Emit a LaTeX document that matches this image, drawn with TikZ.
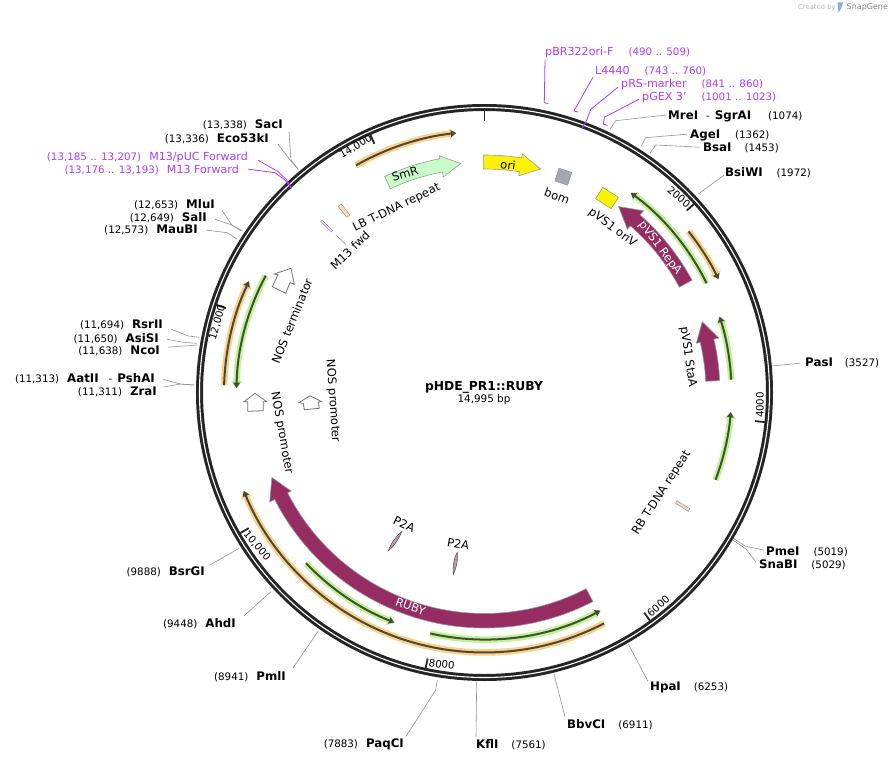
\documentclass[tikz,border=0pt]{standalone}
\usepackage{fontspec}
\setmainfont{DejaVu Sans}
\usetikzlibrary{arrows.meta}
\definecolor{ringdark}{HTML}{252525}
\definecolor{rubyred}{HTML}{962D62}
\definecolor{trackor}{HTML}{FFCF86}
\definecolor{trackgr}{HTML}{BDF58F}
\definecolor{trackln}{HTML}{454A3C}
\definecolor{primer}{HTML}{B03CFF}
\definecolor{smrgreen}{HTML}{C8FBC8}
\definecolor{bomgray}{HTML}{A3A8B0}
\tikzset{
  site/.style={font=\fontsize{10.3}{12}\selectfont, inner sep=0pt, text=black, yshift=-1.2pt},
  primerlabel/.style={site, text=primer},
  featlabel/.style={font=\fontsize{11.6}{13}\selectfont, inner sep=0pt},
  ticklabel/.style={font=\fontsize{10.2}{12}\selectfont, inner sep=0pt},
  leader/.style={draw=gray!85, line width=0.6pt},
  primerline/.style={draw=primer, line width=0.8pt},
  tickmark/.style={draw=ringdark, line width=1.8pt},
  arrowfeat/.style={draw=gray!80, line width=0.6pt},
  openarrow/.style={draw=gray!90!black, fill=white, line width=0.8pt},
}
\newcommand{\sname}[1]{{\fontsize{11.8}{12}\selectfont\bfseries #1}}
\newcommand{\pname}[1]{{\fontsize{11.1}{12}\selectfont #1}}
% polar track with halo, angles in degrees, tip at the second one
\newcommand{\trackarc}[4]{%
  \draw[#4, line width=6.5pt, -{Triangle[width=11pt,length=7pt]}] (#1:#3) arc[start angle=#1, end angle=#2, radius=#3];
  \draw[trackln, line width=2pt, -{Triangle[width=6.5pt,length=5.5pt]}] (#1:#3) arc[start angle=#1, end angle=#2, radius=#3];
}
% block arrow: tail, head base, tip, in and out radius, head in and out radius, tip radius
\newcommand{\blockarc}[8]{%
  \filldraw[arrowfeat, fill=#8] (#1:#4) arc[start angle=#1, end angle=#2, radius=#4]
    -- (#2:#6) -- (#3:{(#6+#7)/2}) -- (#2:#7) -- (#2:#5)
    arc[start angle=#2, end angle=#1, radius=#5] -- cycle;
}
\begin{document}
\begin{tikzpicture}[x=1pt, y=-1pt]
  \useasboundingbox (0,0) rectangle (895,760);
  \fill[white] (0,0) rectangle (895,760);

  \node[font=\fontsize{6.8}{8}\selectfont, text=gray!55, anchor=west, inner sep=0pt] (created) at (798,7.5) {Created by};
  \fill[cyan!50!blue!45] (837.5,2.5) -- (843,2.5) -- (841,9) -- (838.5,12.5) -- cycle;
  \node[font=\fontsize{8}{9}\selectfont, text=gray!95, anchor=west, inner sep=0pt] (snapgene) at (846.5,7.5) {SnapGene};

  % features, around the centre
  \begin{scope}[shift={(484.5,392.5)}, x=1pt, y=1pt]
    \draw[ringdark, line width=7pt] (0,0) circle[radius=285];
    \draw[white, line width=1.1pt] (0,0) circle[radius=285];

    % ticks every 2000 bp
    \foreach \bp in {0,2000,...,14000} {
      \pgfmathsetmacro{\ang}{90-\bp/14995*360}
      \draw[tickmark] (\ang:272) -- (\ang:284);
    }

    % orange tracks
    \trackarc{119.5}{96.2}{261}{trackor}
    \trackarc{38.3}{25.8}{260}{trackor}
    \trackarc{178.4}{154.7}{260.5}{trackor}
    \trackarc{297.4}{202.2}{260}{trackor}
    % green tracks
    \trackarc{26.2}{53.8}{247.5}{trackgr}
    \trackarc{3}{17.9}{247}{trackgr}
    \trackarc{-20.7}{-4.5}{247}{trackgr}
    \trackarc{257.3}{298}{247}{trackgr}
    \trackarc{223.7}{248.6}{247}{trackgr}
    \trackarc{151.9}{179}{248}{trackgr}

    % block arrows
    \blockarc{297.4}{207}{201.8}{221}{235.5}{217}{241}{rubyred}
    \blockarc{28.4}{48.8}{54.2}{221.5}{236}{217}{241.5}{rubyred}
    \blockarc{2.9}{13.1}{18}{221.5}{235.5}{217.5}{240.5}{rubyred}
    \blockarc{114.8}{100.8}{95.9}{224.5}{238}{219.5}{241}{smrgreen}
    \blockarc{90.3}{81}{75.9}{223.5}{237.5}{219.5}{241.5}{yellow}
  \end{scope}

  % labels on the features
  \node[featlabel] (smr) at (405,173.5) [rotate=16] {SmR};
  \node[featlabel] (ori) at (508,165) [rotate=-7] {ori};
  \node[featlabel, text=white] (repa) at (660,248) [rotate=-53] {pVS1 RepA};
  \node[featlabel, text=white] (ruby) at (410.5,606.5) [rotate=-20] {RUBY};

  % small boxes
  \node[draw=gray!90, fill=bomgray, minimum width=13.5pt, minimum height=13.5pt, inner sep=0pt, rotate=-18] (bom) at (563.3,176.7) {};
  \node[draw=gray, fill=yellow, minimum width=18.5pt, minimum height=13.5pt, inner sep=0pt, rotate=-33] (oriv) at (607,198) {};
  \node[draw=gray!90, fill=orange!30!brown!30, minimum width=15pt, minimum height=3pt, inner sep=0pt, rotate=-32] (rbbox) at (682.7,506) {};
  \node[draw=gray!90, fill=orange!30, minimum width=14pt, minimum height=4pt, inner sep=0pt, rotate=-52] (lbbox) at (344,210.7) {};
  \node[draw=primer, fill=white, minimum width=15pt, minimum height=2pt, inner sep=0pt, rotate=-45] (m13box) at (326.7,226) {};

  % open arrows
  \draw[openarrow] (274.3,274) -- (291,268.3) -- (294.3,284.3) -- (290,282.7) -- (285.7,293.3) -- (272.3,286.7) -- (278,274.7) -- cycle;
  \draw[openarrow] (244,401.7) -- (255,393.3) -- (266.7,401.7) -- (263.3,401.7) -- (263.3,410.7) -- (247.7,411.3) -- (247.7,401.7) -- cycle;
  \draw[openarrow] (299,402.7) -- (310,395.7) -- (321.7,401.7) -- (318.3,402) -- (319.3,408.3) -- (304.3,409.7) -- (303.3,403.3) -- cycle;

  % P2A
  \filldraw[draw=gray!60!black, fill=rubyred!50, line width=0.5pt] (388.3,550.7) .. controls (390.5,544) and (397,535) .. (401.7,531.7) .. controls (399.5,538) and (393.5,547) .. cycle;
  \filldraw[draw=gray!60!black, fill=rubyred!50, line width=0.5pt] (453.3,574.3) .. controls (452.8,566) and (454,557) .. (457.3,552.3) .. controls (458,560) and (456.5,568) .. cycle;

  % feature names
  \node[featlabel, rotate=-20] (bomname) at (557,196) {bom};
  \node[featlabel, rotate=-37] (orivname) at (612.5,228) {pVS1 oriV};
  \node[featlabel, rotate=-82] (staa) at (688,357) {pVS1 StaA};
  \node[featlabel, rotate=57] (rbname) at (661.7,493) {RB T-DNA repeat};
  \node[featlabel, rotate=26] (lbname) at (396.7,208) {LB T-DNA repeat};
  \node[featlabel, rotate=44] (m13name) at (350,250) {M13 fwd};
  \node[featlabel, rotate=68] (termname) at (292,321) {NOS terminator};
  \node[featlabel, rotate=-86] (promb) at (332.7,401) {NOS promoter};
  \node[featlabel, rotate=-80] (proma) at (281.7,433) {NOS promoter};
  \node[featlabel, rotate=-25] (ptwoa) at (404.3,524.3) {P2A};
  \node[featlabel, rotate=-10] (ptwob) at (458.3,544) {P2A};

  % tick labels
  \node[ticklabel, rotate=-40] (t2) at (679,197) {2000};
  \node[ticklabel, rotate=90] (t4) at (760,405) {4000};
  \node[ticklabel, rotate=42] (t6) at (658.3,606) {6000};
  \node[ticklabel, rotate=-8] (t8) at (441.7,664.3) {8000};
  \node[ticklabel, rotate=-50] (t10) at (257,546) {10,000};
  \node[ticklabel, rotate=74] (t12) at (217.5,322.3) {12,000};
  \node[ticklabel, rotate=31] (t14) at (355.7,146.7) {14,000};

  % title
  \node[font=\fontsize{12.3}{14}\selectfont\bfseries, inner sep=0pt] (title) at (484,387) {pHDE\_PR1::RUBY};
  \node[font=\fontsize{10.4}{12}\selectfont, inner sep=0pt] (size) at (484,400) {14,995 bp};

  % sites, right side
  \node[site, anchor=west] (mrei) at (668,115) {\sname{MreI}\hspace{8pt}-\hspace{5pt}\sname{SgrAI}\hspace{17pt}(1074)};
  \node[site, anchor=west] (agei) at (690,134) {\sname{AgeI}\hspace{15pt}(1362)};
  \node[site, anchor=west] (bsai) at (703,147) {\sname{BsaI}\hspace{13pt}(1453)};
  \node[site, anchor=west] (bsiwi) at (725,171) {\sname{BsiWI}\hspace{14pt}(1972)};
  \node[site, anchor=west] (pasi) at (805,362) {\sname{PasI}\hspace{12pt}(3527)};
  \node[site, anchor=west] (pmei) at (766,551) {\sname{PmeI}\hspace{14pt}(5019)};
  \node[site, anchor=west] (snabi) at (759,564) {\sname{SnaBI}\hspace{14pt}(5029)};
  \node[site, anchor=west] (hpai) at (650,686) {\sname{HpaI}\hspace{13pt}(6253)};
  \node[site, anchor=west] (bbvci) at (567,723) {\sname{BbvCI}\hspace{13pt}(6911)};
  \node[site, anchor=west] (kfli) at (476,743) {\sname{KflI}\hspace{13pt}(7561)};
  % sites, left side
  \node[site, anchor=east] (paqci) at (404,743) {(7883)\hspace{8pt}\sname{PaqCI}};
  \node[site, anchor=east] (pmli) at (286,675) {(8941)\hspace{8pt}\sname{PmlI}};
  \node[site, anchor=east] (ahdi) at (236,622) {(9448)\hspace{8pt}\sname{AhdI}};
  \node[site, anchor=east] (bsrgi) at (205,571) {(9888)\hspace{8pt}\sname{BsrGI}};
  \node[site, anchor=east] (zrai) at (157,391) {(11,311)\hspace{8pt}\sname{ZraI}};
  \node[site, anchor=east] (aatii) at (155,377) {(11,313)\hspace{8pt}\sname{AatII}\hspace{10pt}-\hspace{5pt}\sname{PshAI}};
  \node[site, anchor=east] (ncoi) at (160,350) {(11,638)\hspace{8pt}\sname{NcoI}};
  \node[site, anchor=east] (asisi) at (159,337) {(11,650)\hspace{8pt}\sname{AsiSI}};
  \node[site, anchor=east] (rsrii) at (163,324) {(11,694)\hspace{8pt}\sname{RsrII}};
  \node[site, anchor=east] (maubi) at (198,229) {(12,573)\hspace{8pt}\sname{MauBI}};
  \node[site, anchor=east] (sali) at (207,216) {(12,649)\hspace{8pt}\sname{SalI}};
  \node[site, anchor=east] (mlui) at (215,203) {(12,653)\hspace{8pt}\sname{MluI}};
  \node[site, anchor=east] (eco) at (269,137) {(13,336)\hspace{8pt}\sname{Eco53kI}};
  \node[site, anchor=east] (saci) at (283,124) {(13,338)\hspace{8pt}\sname{SacI}};
  % primers
  \node[primerlabel, anchor=east] (mpuc) at (248,156) {(13,185 .. 13,207)\hspace{8pt}\pname{M13/pUC Forward}};
  \node[primerlabel, anchor=east] (mfor) at (239,169) {(13,176 .. 13,193)\hspace{8pt}\pname{M13 Forward}};
  \node[primerlabel, anchor=west] (pbr) at (545,51) {\pname{pBR322ori-F}\hspace{15pt}(490 .. 509)};
  \node[primerlabel, anchor=west] (lfour) at (595,70) {\pname{L4440}\hspace{15pt}(743 .. 760)};
  \node[primerlabel, anchor=west] (prs) at (621,83) {\pname{pRS-marker}\hspace{15pt}(841 .. 860)};
  \node[primerlabel, anchor=west] (pgex) at (642,96) {\pname{pGEX 3'}\hspace{15pt}(1001 .. 1023)};

  % leader lines
  \draw[leader] (mrei.west) ++(-3,-1) -- (615.7,120.7) -- (610,129.3);
  \draw[leader] (agei.west) ++(-3,-1) -- (645.7,137.7) -- (641,146.7);
  \draw[leader] (bsai.west) ++(-3,-1) -- (655.7,145) -- (650,153.3);
  \draw[leader] (bsiwi.west) ++(-1,3) -- (698.3,194);
  \draw[leader] (pasi.west) ++(-5,0) -- (772.3,366);
  \draw[leader] (pmei.west) ++(-2,-2) -- (745,546) -- (733.3,538.3);
  \draw[leader] (snabi.west) ++(-3,-3) -- (746,549) -- (733,540);
  \draw[leader] (hpai.north west) ++(-2,0) -- (628.3,644);
  \draw[leader] (bbvci.north west) ++(-2,-2) -- (554,674);
  \draw[leader] (kfli.north west) ++(0,-2) -- (476.7,681.7);
  \draw[leader] (paqci.north east) ++(2,-2) -- (435.7,690) -- (437.3,680);
  \draw[leader] (pmli.north east) ++(7,-3) -- (318.3,631);
  \draw[leader] (ahdi.north east) ++(8,-2) -- (271,591.7);
  \draw[leader] (bsrgi.north east) ++(5,-2) -- (239,548.3);
  \draw[leader] (zrai.east) ++(6,-5) -- (180,384) -- (194,385);
  \draw[leader] (aatii.east) ++(8,1) -- (180,384) -- (194,385);
  \draw[leader] (ncoi.east) ++(8,-4) -- (197.3,345);
  \draw[leader] (asisi.east) ++(8,1) -- (183,342.3) -- (196.7,343.3);
  \draw[leader] (rsrii.east) ++(8,4) -- (188.3,336) -- (199,337.3);
  \draw[leader] (maubi.east) ++(9,0) -- (227.3,232.7) -- (237.3,239.3);
  \draw[leader] (sali.east) ++(8,2) -- (231.7,225) -- (240.7,230.7);
  \draw[leader] (mlui.east) ++(7,6) -- (231.7,225) -- (242.3,230.7);
  \draw[leader] (eco.east) ++(9,6) -- (290,160) -- (298.3,169.3);
  \draw[leader] (saci.east) ++(6,7) -- (291,160) -- (298.3,169.3);

  \draw[primerline] (mpuc.east) ++(10,3) -- (278.3,171.7) -- (286.7,180) -- (291.7,188.3);
  \draw[primerline] (mfor.east) ++(9,-1) -- (275,172.7) -- (285,180) -- (291,188);
  \draw[primerline] (pbr.south west) ++(0,2) -- (544.3,102.7) -- ++(4,1);
  \draw[primerline] (lfour.south west) ++(-2,1) -- (574,111) -- ++(4,1);
  \draw[primerline] (prs.west) ++(-3,3) -- (590.7,109.3) -- (586.7,120) -- (581.7,129.3);
  \draw[primerline] (pgex.west) ++(-3,2) -- (604.3,117.3) -- (603.3,124) -- ++(4,1.5);

  \draw[leader] (336,235) -- (345.7,244.3);
\end{tikzpicture}
\end{document}
